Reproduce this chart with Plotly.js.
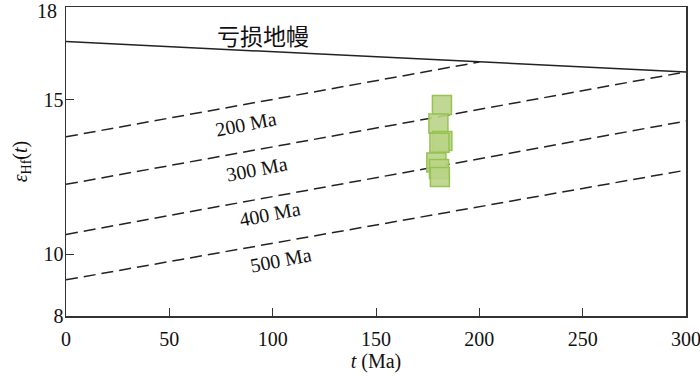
<!DOCTYPE html>
<html>
<head>
<meta charset="utf-8">
<script src="https://cdn.plot.ly/plotly-3.0.1.min.js"></script>
<style>
  html, body { margin: 0; padding: 0; background: #fff; }
  #chart { width: 700px; height: 377px; }
</style>
</head>
<body>
<div id="chart"></div>
<script>
// depleted mantle evolution line
var dmT = [0, 300];
var dmE = [16.88, 15.90];

// crustal model age lines (dashed)
var modelNames = ["200 Ma", "300 Ma", "400 Ma", "500 Ma"];
var modelT = [[0, 200], [0, 300], [0, 300], [0, 300]];
var modelE = [[13.80, 16.22], [12.26, 15.90], [10.64, 14.31], [9.17, 12.72]];

// label positions for the model lines
var labelT = [87, 92.5, 98.7, 104];
var labelE = [14.22, 12.75, 11.3, 9.8];

// zircon samples
var sampleT = [181.9, 180.2, 182.1, 180.7, 179.2, 180.5, 180.9];
var sampleE = [14.83, 14.23, 13.66, 13.61, 12.97, 12.76, 12.50];

// y ticks; the top one is written separately so it stays inside the page
var yTickVals = [8, 10, 15, 18];
var yTickText = ["8", "10", "15", ""];
var yTopLabel = "18";

var serif = "Liberation Serif, Times New Roman, serif";

var data = [];

data.push({
    x: dmT,
    y: dmE,
    mode: "lines",
    line: {color: "#222", width: 1.5},
    hoverinfo: "skip"
});

for (var i = 0; i < modelNames.length; i++) {
    data.push({
        x: modelT[i],
        y: modelE[i],
        mode: "lines",
        line: {color: "#222", width: 1.5, dash: "12px,6px"},
        hoverinfo: "skip"
    });
}

data.push({
    x: sampleT,
    y: sampleE,
    mode: "markers",
    marker: {
        symbol: "square",
        size: 19,
        color: "rgba(185,212,135,0.9)",
        line: {color: "#96c250", width: 1.5}
    }
});

var annotations = modelNames.map(function(name, i) {
    return {
        x: labelT[i],
        y: labelE[i],
        text: name,
        showarrow: false,
        textangle: -11,
        font: {family: serif, size: 20, color: "#111"}
    };
});

annotations.push({
    x: 95.5,
    y: 17.08,
    text: "亏损地幔",
    showarrow: false,
    font: {family: "Noto Sans CJK SC", size: 23, color: "#111"}
});

annotations.push({
    xref: "paper",
    x: 0,
    y: 18,
    xanchor: "right",
    yanchor: "middle",
    xshift: -7,
    yshift: -4,
    text: yTopLabel,
    showarrow: false,
    font: {family: serif, size: 20, color: "#111"}
});

var layout = {
    width: 700,
    height: 377,
    margin: {l: 66, r: 14, t: 7, b: 61},
    paper_bgcolor: "#fff",
    plot_bgcolor: "#fff",
    showlegend: false,
    font: {family: serif, color: "#111"},
    xaxis: {
        range: [0, 300],
        tickvals: [0, 50, 100, 150, 200, 250, 300],
        ticks: "inside",
        ticklen: 8,
        tickcolor: "#333",
        ticklabeloverflow: "allow",
        ticklabelstandoff: 4,
        showgrid: false,
        zeroline: false,
        showline: true,
        linecolor: "#333",
        linewidth: 1.5,
        mirror: true,
        tickfont: {family: serif, size: 20},
        title: {text: "<i>t</i> (Ma)", font: {family: serif, size: 20}, standoff: 2}
    },
    yaxis: {
        range: [8, 18],
        tickvals: yTickVals,
        ticktext: yTickText,
        ticks: "inside",
        ticklen: 8,
        tickcolor: "#333",
        ticklabeloverflow: "allow",
        ticklabelstandoff: -3,
        showgrid: false,
        zeroline: false,
        showline: true,
        linecolor: "#333",
        linewidth: 1.5,
        mirror: true,
        tickfont: {family: serif, size: 20},
        title: {text: "<i>ε</i><sub>Hf</sub>(<i>t</i>)", font: {family: serif, size: 20}, standoff: 10}
    },
    annotations: annotations
};

Plotly.newPlot("chart", data, layout, {displayModeBar: false, staticPlot: true});
</script>
</body>
</html>
